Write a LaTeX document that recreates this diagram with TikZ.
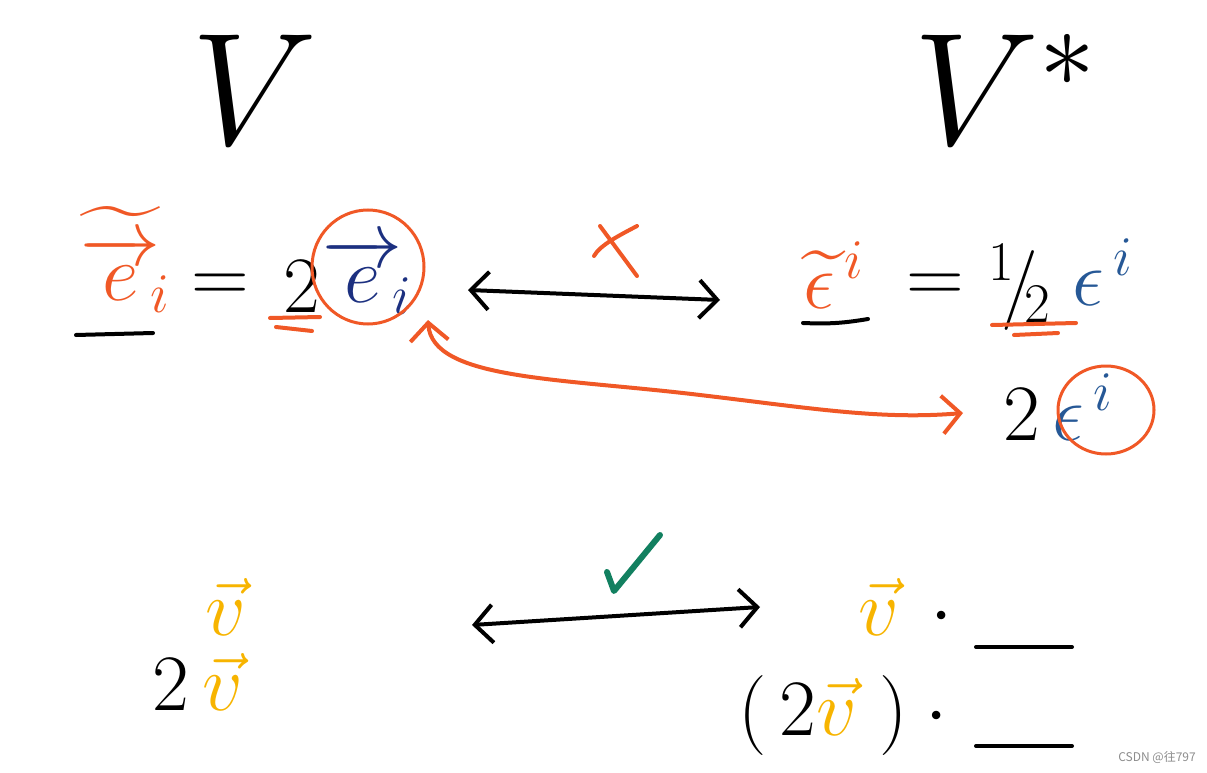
\RequirePackage{fix-cm}
\documentclass[tikz,border=0pt]{standalone}
\usepackage{amsmath}
\usepackage{amssymb}
\usepackage{fontspec}
\newfontfamily\cjk{Noto Sans CJK SC}
\usepackage{tikz}
\usetikzlibrary{arrows.meta,positioning,calc,shapes.geometric}

\definecolor{penred}{RGB}{240,88,38}
\definecolor{basisnavy}{RGB}{28,48,128}
\definecolor{covblue}{RGB}{38,88,150}
\definecolor{vecyellow}{RGB}{247,180,0}
\definecolor{okgreen}{RGB}{18,128,96}

\tikzset{
  big/.style={font=\fontsize{160}{160}\selectfont, inner sep=0pt},
  txt/.style={font=\fontsize{80}{88}\selectfont, inner sep=0pt},
  ink/.style={line width=4pt, line cap=round},
  pen/.style={draw=penred, line width=4pt, line cap=round, line join=round},
  ring/.style={draw=penred, ellipse, line width=3pt, inner sep=0pt},
}

\begin{document}
\begin{tikzpicture}[x=1pt, y=-1pt, >={Straight Barb[length=18pt,width=38pt]}]
        \useasboundingbox (0,0) rectangle (1207,773);
        % spaces
        \node[big, anchor=base] (V) at (255,145) {$V$};
        \node[big, anchor=base] (Vstar) at (1005,145) {$V^{*}$};

        % basis vectors
        \node[txt, anchor=base west, text=penred] (etil) at (80,300) {$\widetilde{\raisebox{0pt}[1.06\height]{$\overrightarrow{e}$}}_{\!i}$};
        \node[txt, anchor=base] (eqa) at (220,302) {$=$};
        \node[txt, anchor=base] (two) at (302,312) {$2$};
        \node[txt, anchor=base west, text=basisnavy] (ei) at (322,302) {$\overrightarrow{e}_{\!i}$};
        \node[ring, minimum width=112pt, minimum height=114pt] (c1) at (368,267) {};

        % dual basis
        \node[txt, anchor=base west, text=penred] (epstil) at (803,308) {$\widetilde{\epsilon}^{\,i}$};
        \node[txt, anchor=base] (eqb) at (935,302) {$=$};
        \node[txt, anchor=base west] (half) at (988,310) {${}^{1}\!/\!_{2}$};
        \node[txt, anchor=base west, text=covblue] (epsi) at (1072,305) {$\epsilon^{\,i}$};
        \node[txt, anchor=base west] (two2) at (1003,440) {$2$};
        \node[txt, anchor=base west, text=covblue] (eps2) at (1052,440) {$\epsilon^{\,i}$};
        \node[ring, minimum width=96pt, minimum height=88pt] (c2) at (1106,410) {};

        % vectors
        \node[txt, anchor=base, text=vecyellow] (v1) at (226,635) {$\vec{v}$};
        \node[txt, anchor=base west] (v2) at (152,710) {$2\,\textcolor{vecyellow}{\vec{v}}$};
        \node[txt, anchor=base west] (v1dot) at (858,635) {$\textcolor{vecyellow}{\vec{v}}\,\cdot{}$};
        \node[txt, anchor=base west] (v2dot) at (738,735) {$(\,2\textcolor{vecyellow}{\vec{v}}\;)\cdot{}$};
        \node[anchor=south east, inner sep=0pt, font=\cjk\fontsize{12}{12}\selectfont, text=black!45] (mark1) at (1196,764) {CSDN @往797};

        \coordinate (a1) at (468,290);
        \coordinate (b1) at (720,300);
        \coordinate (a2) at (472,625);
        \coordinate (b2) at (760,607);
        \coordinate (r1) at (428,320);
        \coordinate (r2) at (963,413);

        % underlines
        \draw[ink] (76,335) -- (153,333);
        \draw[ink] (803,323) to[bend right=6] (868,319);
        \draw[pen] (270,318) -- (320,317);
        \draw[pen] (276,327) -- (312,331);
        \draw[pen] (992,325) -- (1076,323);
        \draw[pen] (1014,335) -- (1058,333);
        \draw[ink] (976,647) -- (1072,647);
        \draw[ink] (976,746) -- (1072,746);

        % arrows
        \draw[ink, <->] (a1) -- (b1);
        \draw[ink, <->] (a2) -- (b2);
        \draw[pen, <->] (r1) .. controls (432,380) and (560,378) .. (700,395) .. controls (810,408) and (880,420) .. (r2);
        \draw[pen] (600,226) -- (637,276);
        \draw[pen] (637,226) .. controls (620,235) and (600,245) .. (594,256);
        \draw[draw=okgreen, line width=6pt, line cap=round, line join=round] (607,572) -- (614,591) -- (660,535);
    \end{tikzpicture}
\end{document}
